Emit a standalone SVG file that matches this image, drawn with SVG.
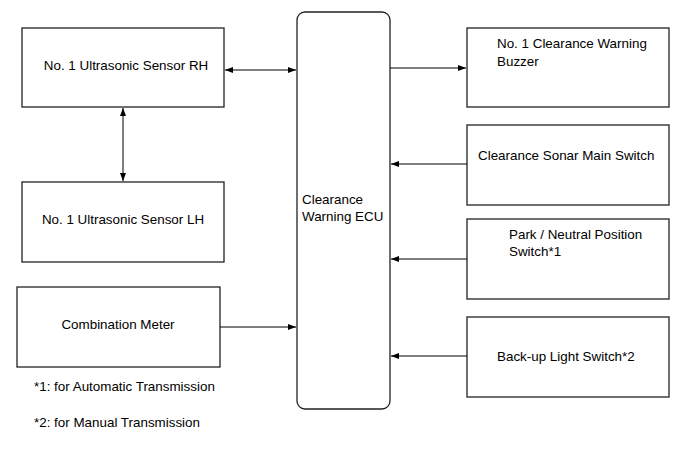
<svg xmlns="http://www.w3.org/2000/svg" width="690" height="465" viewBox="0 0 690 465">
<style>
.box{fill:#fff;stroke:#222;stroke-width:1.3}
.t{font-family:"Liberation Sans",Arial,sans-serif;font-size:13.4px;fill:#000}
.c{stroke:#000;stroke-width:1;fill:none}
</style>
<defs>
<marker id="ah" viewBox="0 0 8 6" refX="8" refY="3" markerWidth="8" markerHeight="6" markerUnits="userSpaceOnUse" orient="auto-start-reverse">
<path d="M0,0 L8,3 L0,6 Z" fill="#000"/>
</marker>
</defs>
<rect width="690" height="465" fill="#fff"/>
<g id="rh"><rect class="box" x="22" y="28" width="202" height="79"/><text class="t" x="126" y="70" text-anchor="middle">No. 1 Ultrasonic Sensor RH</text></g>
<g id="lh"><rect class="box" x="22" y="182" width="202" height="80"/><text class="t" x="123" y="224" text-anchor="middle">No. 1 Ultrasonic Sensor LH</text></g>
<g id="meter"><rect class="box" x="17" y="287" width="203" height="80"/><text class="t" x="118" y="329" text-anchor="middle">Combination Meter</text></g>
<g id="ecu"><rect class="box" x="297" y="12" width="93" height="397" rx="8" ry="8"/><text class="t" x="302" y="204">Clearance</text><text class="t" x="302" y="221">Warning ECU</text></g>
<g id="buzzer"><rect class="box" x="467" y="28" width="202" height="79"/><text class="t" x="497" y="48">No. 1 Clearance Warning</text><text class="t" x="497" y="66">Buzzer</text></g>
<g id="sonar"><rect class="box" x="467" y="125" width="202" height="80"/><text class="t" x="478" y="160">Clearance Sonar Main Switch</text></g>
<g id="park"><rect class="box" x="467" y="219" width="202" height="80"/><text class="t" x="509" y="239">Park / Neutral Position</text><text class="t" x="509" y="256">Switch*1</text></g>
<g id="backup"><rect class="box" x="467" y="317" width="202" height="80"/><text class="t" x="497" y="361">Back-up Light Switch*2</text></g>
<g id="notes"><text class="t" x="34" y="391">*1: for Automatic Transmission</text><text class="t" x="34" y="427">*2: for Manual Transmission</text></g>
<g id="connectors">
<line class="c" x1="225" y1="70" x2="296" y2="70" marker-start="url(#ah)" marker-end="url(#ah)"/>
<line class="c" x1="123" y1="108" x2="123" y2="181" marker-start="url(#ah)" marker-end="url(#ah)"/>
<line class="c" x1="390" y1="68" x2="466" y2="68" marker-end="url(#ah)"/>
<line class="c" x1="467" y1="164" x2="391" y2="164" marker-end="url(#ah)"/>
<line class="c" x1="467" y1="259" x2="391" y2="259" marker-end="url(#ah)"/>
<line class="c" x1="467" y1="356" x2="391" y2="356" marker-end="url(#ah)"/>
<line class="c" x1="220" y1="327" x2="296" y2="327" marker-end="url(#ah)"/>
</g>
</svg>
